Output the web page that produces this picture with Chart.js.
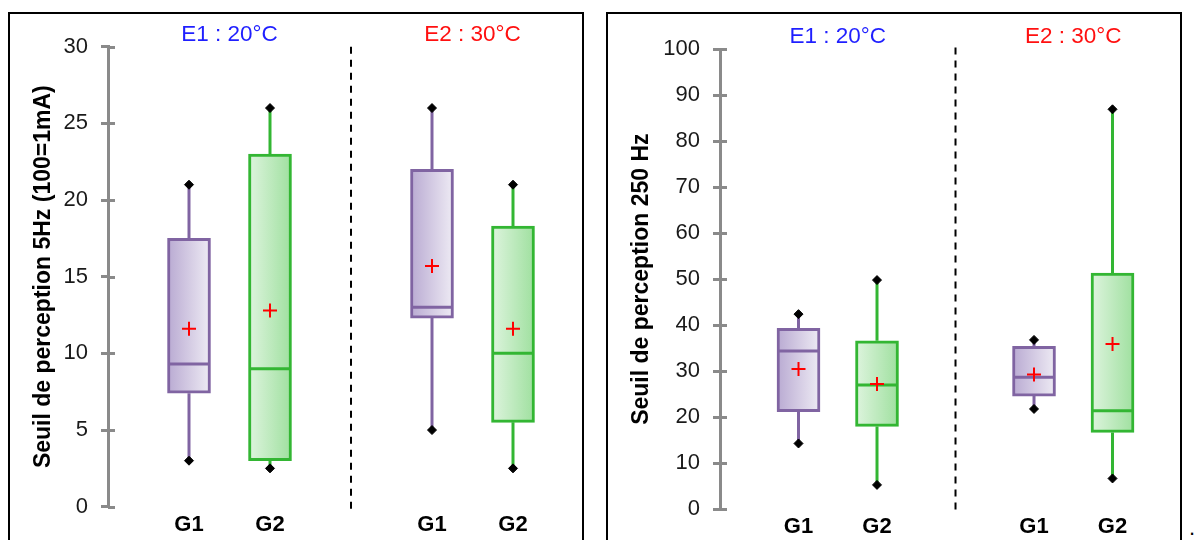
<!DOCTYPE html>
<html>
<head>
<meta charset="utf-8">
<script src="https://cdn.jsdelivr.net/npm/chart.js@4.4.1/dist/chart.umd.min.js"></script>
<style>
  html, body { margin: 0; padding: 0; background: #fff; overflow: hidden; }
  body { width: 1195px; height: 540px; position: relative; font-family: 'Liberation Sans', Arial, sans-serif; }
  .panel { position: absolute; top: 12px; width: 572px; height: 560px; border: 2px solid #000; }
  #p1 { left: 8px; }
  #p2 { left: 606px; }
  .panel canvas { display: block; }
  #dot { position: absolute; left: 1189px; top: 515px; font-size: 22px; color: #000; }
</style>
</head>
<body>
<div class="panel" id="p1"><canvas id="chart5hz" width="572" height="526"></canvas></div>
<div class="panel" id="p2"><canvas id="chart250hz" width="572" height="526"></canvas></div>
<div id="dot">.</div>
<script>
// conditions and groups, boxes ordered E1-G1, E1-G2, E2-G1, E2-G2
const conditions = ['E1 : 20°C', 'E2 : 30°C'];
const groups = ['G1', 'G2'];

// Seuil de perception 5Hz
const hz5Min = [3, 2.5, 5, 2.5];
const hz5Q1 = [7.4, 3, 12.3, 5.5];
const hz5Median = [9.3, 9, 13, 10];
const hz5Q3 = [17.5, 23, 22, 18.3];
const hz5Max = [21, 26, 26, 21];
const hz5Mean = [11.6, 12.8, 15.7, 11.6];
const hz5Ticks = [0, 5, 10, 15, 20, 25, 30];

// Seuil de perception 250 Hz
const hz250Min = [14.3, 5.3, 21.8, 6.7];
const hz250Q1 = [21.2, 18, 24.6, 16.7];
const hz250Median = [34.4, 27, 28.7, 21.4];
const hz250Q3 = [39.3, 36.6, 35.4, 51.3];
const hz250Max = [42.4, 49.8, 36.8, 86.9];
const hz250Mean = [30.5, 27.2, 29.3, 35.9];
const hz250Ticks = [0, 10, 20, 30, 40, 50, 60, 70, 80, 90, 100];

const FONT = "'Liberation Sans', Arial, sans-serif";
const AXIS_GREY = '#8a8a8a';
const PURPLE = '#8064a2';
const GREEN = '#33b633';
const titleColors = ['#1f1fff', '#ff1010'];
const BOX_W = 43;

const nG = groups.length;
const slotOf = i => Math.floor(i / nG) * (nG + 1) + (i % nG) + 1;
const edgeColor = i => (i % nG === 0 ? PURPLE : GREEN);

// small tick marks on the inside of the value axis
const innerTicks = {
  id: 'innerTicks',
  afterDraw(chart) {
    const ys = chart.scales.y;
    const c = chart.ctx;
    const x = chart.chartArea.left;
    c.save();
    c.strokeStyle = AXIS_GREY;
    c.lineWidth = 3;
    ys.ticks.forEach(t => {
      const y = Math.round(ys.getPixelForValue(t.value)) + 0.5;
      c.beginPath();
      c.moveTo(x, y);
      c.lineTo(x + 7, y);
      c.stroke();
    });
    c.restore();
  }
};

function boxGradient(ctx) {
  const chart = ctx.chart;
  const xs = chart.scales.x;
  const purple = ctx.dataIndex % nG === 0;
  const flat = purple ? '#d6cde4' : '#c2ecc2';
  if (ctx.type !== 'data' || !xs || !ctx.raw) return flat;
  const cx = xs.getPixelForValue(ctx.raw.x);
  if (!isFinite(cx)) return flat;
  const g = chart.ctx.createLinearGradient(cx - BOX_W / 2, 0, cx + BOX_W / 2, 0);
  if (purple) {
    g.addColorStop(0, '#b9aad2');
    g.addColorStop(1, '#eeebf4');
  } else {
    g.addColorStop(0, '#def4de');
    g.addColorStop(1, '#9fe09f');
  }
  return g;
}

function makeChart(id, s) {
  const n = s.min.length;
  const idx = [...Array(n).keys()];
  const lastSlot = conditions.length * (nG + 1) - 0.25;

  const whiskers = keep => {
    const pts = [];
    idx.filter(keep).forEach(i => {
      const x = slotOf(i);
      pts.push({x, y: s.min[i]}, {x, y: s.q1[i]}, {x, y: null},
               {x, y: s.q3[i]}, {x, y: s.max[i]}, {x, y: null});
    });
    return pts;
  };
  const dividers = [];
  for (let c = 1; c < conditions.length; c++) {
    const x = c * (nG + 1);
    dividers.push({x, y: s.divTop}, {x, y: s.divBottom}, {x, y: null});
  }
  // horizontal axes: fixed height, no extra side padding for labels
  const fitX = h => sc => { sc.height = h; sc.paddingLeft = 0; sc.paddingRight = 0; };

  const chart = new Chart(document.getElementById(id), {
    type: 'bar',
    data: {
      datasets: [
        {
          type: 'line', data: dividers, order: 9, clip: false,
          borderColor: '#000', borderWidth: 2, borderDash: [7, 6], pointRadius: 0
        },
        {
          type: 'line', data: whiskers(i => i % nG === 0), order: 8,
          borderColor: PURPLE, borderWidth: 3, pointRadius: 0
        },
        {
          type: 'line', data: whiskers(i => i % nG === 1), order: 8,
          borderColor: GREEN, borderWidth: 3, pointRadius: 0
        },
        {
          type: 'bar', order: 7,
          data: idx.map(i => ({x: slotOf(i), y: [s.q1[i], s.q3[i]]})),
          barThickness: BOX_W, borderSkipped: false, borderWidth: 3,
          borderColor: idx.map(edgeColor), backgroundColor: boxGradient
        },
        {
          type: 'line', showLine: false, order: 6,
          data: idx.map(i => ({x: slotOf(i), y: s.median[i]})),
          pointStyle: 'line', pointRadius: 20, pointBorderWidth: 3,
          pointBorderColor: idx.map(edgeColor)
        },
        {
          type: 'line', showLine: false, order: 5,
          data: idx.flatMap(i => [{x: slotOf(i), y: s.min[i]}, {x: slotOf(i), y: s.max[i]}]),
          pointStyle: 'rectRot', pointRadius: 4.5, pointBorderWidth: 1,
          pointBackgroundColor: '#000', pointBorderColor: '#000'
        },
        {
          type: 'line', showLine: false, order: 4,
          data: idx.map(i => ({x: slotOf(i), y: s.mean[i]})),
          pointStyle: 'cross', pointRadius: 7, pointBorderWidth: 2,
          pointBorderColor: '#ff0000'
        }
      ]
    },
    options: {
      responsive: false,
      animation: false,
      events: [],
      layout: { autoPadding: false, padding: { left: 0, top: 0, right: s.padRight, bottom: 0 } },
      plugins: { legend: { display: false }, tooltip: { enabled: false } },
      scales: {
        x: {
          type: 'linear', position: 'bottom', bounds: 'data', min: 0, max: lastSlot, offset: false,
          grid: { display: false, drawTicks: false },
          border: { display: false },
          afterBuildTicks: sc => { sc.ticks = idx.map(i => ({value: slotOf(i)})); },
          afterFit: fitX(s.bottomH),
          ticks: {
            autoSkip: false, maxRotation: 0, padding: s.labelPad, color: '#000',
            font: { family: FONT, size: 22, weight: 'bold' },
            callback: (v, i) => groups[i % nG]
          }
        },
        x2: {
          type: 'linear', position: 'top', bounds: 'data', min: 0, max: lastSlot, offset: false,
          grid: { display: false, drawTicks: false },
          border: { display: false },
          afterBuildTicks: sc => {
            sc.ticks = conditions.map((c, k) => ({value: k * (nG + 1) + (nG + 1) / 2}));
          },
          afterFit: fitX(s.topH),
          ticks: {
            autoSkip: false, maxRotation: 0, padding: 1,
            color: c => titleColors[c.index],
            font: { family: FONT, size: 22.5, lineHeight: 1 },
            callback: (v, i) => conditions[i]
          }
        },
        y: {
          type: 'linear', min: s.ticks[0], max: s.ticks[s.ticks.length - 1],
          afterBuildTicks: sc => { sc.ticks = s.ticks.map(v => ({value: v})); },
          afterFit: sc => { sc.width = s.axisX; },
          grid: { display: true, drawOnChartArea: false, drawTicks: true, tickLength: 7,
                  color: AXIS_GREY, lineWidth: 3 },
          border: { display: true, color: AXIS_GREY, width: 3 },
          ticks: { padding: 13, color: '#1a1a1a', font: { family: FONT, size: 22 } },
          title: {
            display: true, text: s.title, color: '#000',
            padding: { top: 20.2, bottom: 0 },
            font: { family: FONT, size: 23, weight: 'bold' }
          }
        }
      }
    },
    plugins: [innerTicks]
  });
  // second pass so the box gradients see the finished scale layout
  chart.update('none');
  return chart;
}

makeChart('chart5hz', {
  min: hz5Min, q1: hz5Q1, median: hz5Median, q3: hz5Q3, max: hz5Max, mean: hz5Mean,
  ticks: hz5Ticks, title: 'Seuil de perception 5Hz (100=1mA)',
  divTop: 30, divBottom: -0.35,
  axisX: 98, topH: 32.7, bottomH: 33.3, padRight: 8.25, labelPad: 5
});

makeChart('chart250hz', {
  min: hz250Min, q1: hz250Q1, median: hz250Median, q3: hz250Q3, max: hz250Max, mean: hz250Mean,
  ticks: hz250Ticks, title: 'Seuil de perception 250 Hz',
  divTop: 100.3, divBottom: -0.8,
  axisX: 112, topH: 35, bottomH: 30.7, padRight: 8.6, labelPad: 4
});
</script>
</body>
</html>
